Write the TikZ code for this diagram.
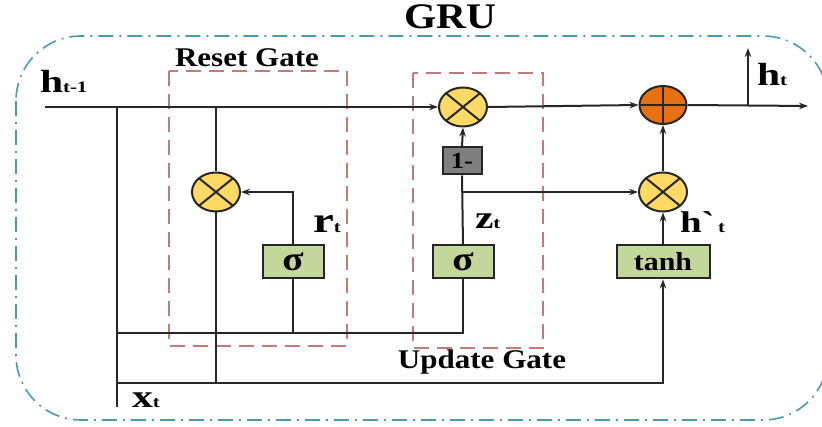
\documentclass[tikz,border=0pt]{standalone}
\usepackage{fontspec}
\setmainfont{Liberation Serif}
\newfontfamily\plainser{Liberation Serif}
\usetikzlibrary{arrows.meta,shapes.geometric}
\definecolor{dashblue}{HTML}{4A9BB0}
\definecolor{gatered}{HTML}{C27A7A}
\definecolor{yel}{HTML}{FFD966}
\definecolor{org}{HTML}{E8700F}
\definecolor{grn}{HTML}{C4D79B}
\definecolor{gry}{HTML}{7F7F7F}
\newcommand\txt[2]{\scalebox{1.15}[1]{\fontsize{#1}{#1}\selectfont\bfseries #2}}
\newcommand\lab[3]{\scalebox{1.3}[1]{\bfseries{\fontsize{#1}{#1}\selectfont #2}{\fontsize{16}{16}\selectfont #3}}}
\begin{document}
\begin{tikzpicture}[x=1pt,y=-1pt, line width=2pt, draw=black!85, >={Stealth[length=9pt,width=6.5pt]},
  mul/.style={ellipse, draw, fill=yel, minimum width=48pt, minimum height=39pt, inner sep=0pt,
    path picture={\draw (path picture bounding box.north west) -- (path picture bounding box.south east)
      (path picture bounding box.north east) -- (path picture bounding box.south west);}},
  addop/.style={ellipse, draw, fill=org, minimum width=47pt, minimum height=38pt, inner sep=0pt,
    path picture={\draw (path picture bounding box.north) -- (path picture bounding box.south)
      (path picture bounding box.west) -- (path picture bounding box.east);}},
  actbox/.style={draw, fill=grn, minimum height=33pt, inner sep=0pt},
  gatebox/.style={draw=gatered, line width=1.5pt, dash pattern=on 15pt off 8pt},
  lbl/.style={inner sep=0pt}
]
\useasboundingbox (0,0) rectangle (822,427);
% outer frame
\draw[dashblue, line width=1.6pt, dash pattern=on 15pt off 6pt on 2pt off 6pt, rounded corners=65pt] (16,36) rectangle (828,420);
% gate boxes
\draw[gatebox] (169,71) rectangle (347,346);
\draw[gatebox] (413,73) rectangle (543,348);
% titles
\node[lbl] (title) at (450,17) {\txt{36}{GRU}};
\node[lbl] (rg) at (247,58) {\txt{27}{Reset Gate}};
\node[lbl] (ug) at (482,362) {\txt{27}{Update Gate}};
% operators
\node[mul] (m1) at (463,107) {};
\node[addop] (p1) at (663,105) {};
\node[mul] (m2) at (216,192) {};
\node[mul] (m3) at (663,192) {};
% boxes
\node[draw, fill=gry, minimum width=39pt, minimum height=27pt, inner sep=0pt] (one) at (462,161) {\txt{23}{1-}};
\node[actbox, minimum width=61pt] (sr) at (293,262) {\txt{34}{σ}};
\node[actbox, minimum width=61pt] (sz) at (463,262) {\txt{34}{σ}};
\node[actbox, minimum width=93pt] (th) at (663,262) {\txt{26}{tanh}};
% coordinates
\coordinate (hin) at (45,107);
\coordinate (hout) at (808,106);
\coordinate (hbr) at (748,106);
\coordinate (hup) at (748,48);
\coordinate (xa) at (117,107);
\coordinate (xb) at (117,407);
\coordinate (l1) at (117,333);
\coordinate (l2) at (117,383);
\coordinate (rtop) at (216,107);
\coordinate (rbot) at (216,383);
\coordinate (zb) at (463,192);
% connectors
\draw[->] (hin) -- (m1.west);
\draw[->] (m1.east) -- (p1.west);
\draw[->] (p1.east) -- (hout);
\draw[->] (hbr) -- (hup);
\draw[->] (one.north) -- (m1.south);
\draw (sz.north) -- (one.south);
\draw[->] (zb) -- (m3.west);
\draw[->] (m3.north) -- (p1.south);
\draw[->] (th.north) -- (m3.south);
\draw (xa) -- (xb);
\draw (l1) -| (sz.south);
\draw (sr.south) -- (sr.south |- l1);
\draw[->] (l2) -| (th.south);
\draw (rtop) -- (m2.north);
\draw (m2.south) -- (rbot);
\draw[->] (sr.north) |- (m2.east);
% labels
\node[lbl, anchor=base west] (hprev) at (39,93) {\lab{32}{h}{t-1}};
\node[lbl, anchor=base west] (ht) at (756,86) {\lab{32}{h}{t}};
\node[lbl, anchor=base west] (rt) at (312,233) {\lab{36}{r}{t}};
\node[lbl, anchor=base west] (zt) at (474,229) {\lab{32}{z}{t}};
\node[lbl, anchor=base west] (hc) at (679,233) {\lab{30}{h{\plainser\symbol{96}}}{\,t}};
\node[lbl, anchor=base west] (xt) at (131,408) {\lab{32}{x}{t}};
\end{tikzpicture}
\end{document}
